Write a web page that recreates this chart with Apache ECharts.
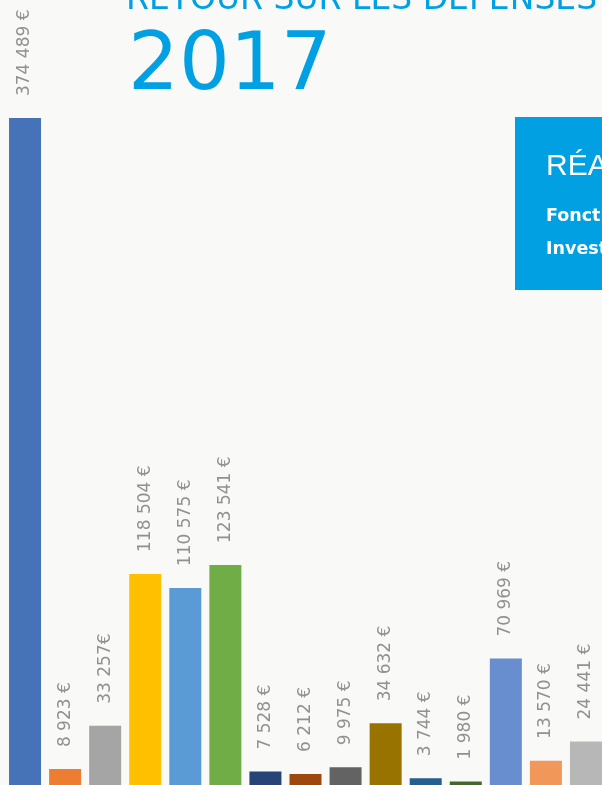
<!DOCTYPE html>
<html>
<head>
<meta charset="utf-8">
<title>Retour sur les dépenses 2017</title>
<script src="https://cdn.jsdelivr.net/npm/echarts@6/dist/echarts.min.js"></script>
<style>
  html, body { margin: 0; padding: 0; background: #f9f9f7; }
  #main { width: 602px; height: 785px; }
</style>
</head>
<body>
<div id="main"></div>
<script>
// données
var categories = ['c1', 'c2', 'c3', 'c4', 'c5', 'c6', 'c7', 'c8', 'c9', 'c10', 'c11', 'c12', 'c13', 'c14', 'c15'];
var montants = [374489, 8923, 33257, 118504, 110575, 123541, 7528, 6212, 9975, 34632, 3744, 1980, 70969, 13570, 24441];
var etiquettes = ['374 489 €', '8 923 €', '33 257€', '118 504 €', '110 575 €', '123 541 €', '7 528 €', '6 212 €',
                  '9 975 €', '34 632 €', '3 744 €', '1 980 €', '70 969 €', '13 570 €', '24 441 €'];
var couleurs = ['#4672b8', '#ed7d31', '#a5a5a5', '#ffc000', '#5b9bd5', '#70ad47', '#264478', '#9e480e',
                '#636363', '#997300', '#255e91', '#43682b', '#698ed0', '#f1975a', '#b7b7b7'];

var myChart = echarts.init(document.getElementById('main'));

myChart.setOption({
    backgroundColor: '#f9f9f7',
    animation: false,
    grid: { left: 5, width: 601, top: 72.6, bottom: 0, outerBoundsMode: 'none' },
    xAxis: {
        type: 'category',
        data: categories,
        show: false
    },
    yAxis: {
        type: 'value',
        min: 0,
        max: 400000,
        show: false
    },
    series: [{
        type: 'bar',
        barWidth: 32,
        data: montants.map(function (v, i) {
            return { value: v, itemStyle: { color: couleurs[i] } };
        }),
        label: {
            show: true,
            position: 'top',
            distance: 20,
            offset: [2, 0],
            rotate: 90,
            align: 'left',
            verticalAlign: 'middle',
            color: '#919191',
            fontFamily: 'DejaVu Sans',
            fontSize: 17,
            formatter: function (p) { return etiquettes[p.dataIndex]; }
        }
    }],
    graphic: [
        {
            type: 'text',
            left: 126,
            top: -16,
            style: {
                text: 'RETOUR SUR LES DÉPENSES',
                fill: '#00a0e3',
                font: '33px "DejaVu Sans"'
            }
        },
        {
            type: 'text',
            left: 128,
            top: 28,
            style: {
                text: '2017',
                fill: '#00a0e3',
                font: '80px "DejaVu Sans"'
            }
        },
        {
            type: 'rect',
            shape: { x: 515, y: 117, width: 120, height: 173 },
            style: { fill: '#00a0e3' }
        },
        {
            type: 'text',
            left: 546,
            top: 152,
            style: {
                text: 'RÉALISATIONS',
                fill: '#ffffff',
                font: '30px "Liberation Sans"'
            }
        },
        {
            type: 'text',
            left: 546,
            top: 207,
            style: {
                text: 'Fonctionnement',
                fill: '#ffffff',
                font: 'bold 17.5px "DejaVu Sans"'
            }
        },
        {
            type: 'text',
            left: 546,
            top: 240,
            style: {
                text: 'Investissement',
                fill: '#ffffff',
                font: 'bold 17.5px "DejaVu Sans"'
            }
        }
    ]
});
</script>
</body>
</html>
